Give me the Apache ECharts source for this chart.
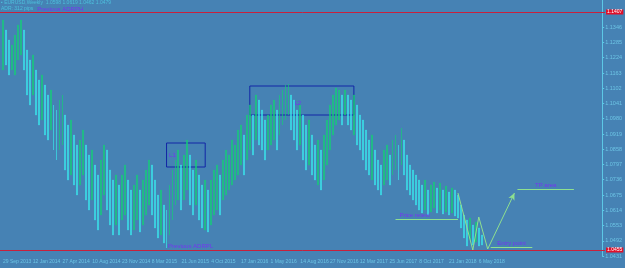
<!DOCTYPE html>
<html><head><meta charset="utf-8">
<script src="https://cdn.jsdelivr.net/npm/echarts@6/dist/echarts.min.js"></script>
<style>html,body{margin:0;padding:0;background:#4682B4;overflow:hidden}#c{width:625px;height:268px}</style>
</head><body><div id="c"></div>
<script>
// ---- data ----
const tickLabels = ["29 Sep 2013","12 Jan 2014","27 Apr 2014","10 Aug 2014","23 Nov 2014","8 Mar 2015","21 Jun 2015","4 Oct 2015","17 Jan 2016","1 May 2016","14 Aug 2016","27 Nov 2016","12 Mar 2017","25 Jun 2017","8 Oct 2017","21 Jan 2018","6 May 2018"];
const highs = [1.1375,1.1335,1.1295,1.1275,1.1315,1.1355,1.1375,1.1335,1.1255,1.1215,
1.1235,1.1175,1.1135,1.1155,1.1115,1.1075,1.1095,1.1035,1.1015,1.1055,
1.1075,1.0995,1.0955,1.0975,1.0915,1.0875,1.0895,1.0935,1.0875,1.0835,
1.0855,1.0795,1.0755,1.0815,1.0875,1.0855,1.0775,1.0735,1.0755,1.0715,
1.0755,1.0795,1.0735,1.0695,1.0715,1.0755,1.0695,1.0735,1.0775,1.0815,
1.0795,1.0735,1.0675,1.0695,1.0635,1.0615,1.0715,1.0775,1.0815,1.0855,
1.0795,1.0835,1.0895,1.0835,1.0775,1.0815,1.0755,1.0715,1.0735,1.0695,
1.0735,1.0775,1.0795,1.0755,1.0815,1.0855,1.0835,1.0895,1.0875,1.0935,
1.0955,1.0915,1.0995,1.1035,1.0995,1.1075,1.1055,1.1015,1.0975,1.0995,
1.1035,1.1055,1.1015,1.1075,1.1095,1.1115,1.1119,1.1075,1.1055,1.1015,
1.1035,1.0995,1.0955,1.0975,1.0915,1.0875,1.0895,1.0855,1.0915,1.0975,
1.1035,1.1075,1.1103,1.1095,1.1075,1.1095,1.1075,1.1055,1.1075,1.1035,
1.0995,1.0975,1.0935,1.0895,1.0915,1.0855,1.0815,1.0795,1.0855,1.0875,
1.0835,1.0895,1.0915,1.0875,1.0943,1.0895,1.0835,1.0795,1.0775,1.0755,
1.0735,1.0715,1.0735,1.0695,1.0715,1.0727,1.0703,1.0723,1.0695,1.0711,
1.0687,1.0703,1.0695,1.0675,1.0635,1.0595,1.0575,1.0583,1.0555,1.0567,
1.0543,1.0515];
const lows = [1.1175,1.1195,1.1155,1.1175,1.1155,1.1215,1.1235,1.1175,1.1075,1.1035,
1.1075,1.0995,1.0955,1.0975,1.0915,1.0895,1.0935,1.0855,1.0815,1.0855,
1.0875,1.0775,1.0735,1.0755,1.0715,1.0675,1.0715,1.0755,1.0655,1.0615,
1.0655,1.0575,1.0535,1.0595,1.0675,1.0615,1.0555,1.0515,1.0555,1.0515,
1.0575,1.0595,1.0535,1.0515,1.0535,1.0575,1.0527,1.0555,1.0595,1.0635,
1.0595,1.0543,1.0503,1.0515,1.0483,1.0463,1.0515,1.0575,1.0635,1.0655,
1.0615,1.0655,1.0695,1.0635,1.0595,1.0635,1.0575,1.0543,1.0535,1.0527,
1.0555,1.0595,1.0615,1.0595,1.0655,1.0675,1.0695,1.0715,1.0735,1.0755,
1.0795,1.0755,1.0815,1.0855,1.0835,1.0895,1.0875,1.0855,1.0815,1.0855,
1.0875,1.0895,1.0855,1.0915,1.0955,1.0975,1.0995,1.0935,1.0895,1.0855,
1.0875,1.0815,1.0775,1.0795,1.0755,1.0735,1.0715,1.0695,1.0735,1.0795,
1.0855,1.0915,1.0955,1.0975,1.0955,1.0995,1.0955,1.0935,1.0915,1.0875,
1.0855,1.0815,1.0775,1.0755,1.0735,1.0715,1.0695,1.0675,1.0715,1.0735,
1.0715,1.0755,1.0775,1.0735,1.0795,1.0755,1.0695,1.0675,1.0655,1.0635,
1.0615,1.0603,1.0615,1.0595,1.0607,1.0623,1.0603,1.0615,1.0599,1.0607,
1.0595,1.0603,1.0591,1.0583,1.0543,1.0503,1.0471,1.0495,1.0475,1.0487,
1.0471,1.0475];
const levelHigh = 1.1407;   // Previous ADRPH
const levelLow = 1.0455;    // Previous ADRPL
const lastPrice = 1.0479;
const categoryCount = 202;
// annotation points: [bar index, price]
const zigzag = [[153,1.0683],[158,1.0455],[160,1.0587],[163,1.0459],[172,1.0683]];
const retestLine = [[132,1.0579],[153,1.0579]];
const tpLine = [[173,1.0699],[192,1.0699]];
const entryLine = [[164,1.0467],[178,1.0467]];
const boxL1 = [[55,1.0883],[68,1.0787]];
const boxL2 = [[83,1.1111],[118,1.0995]];
const adrphAnchor = [11, levelHigh];
const adrplAnchor = [55, levelLow];

// ---- build ----
const categories = Array.from({length: categoryCount}, (_, i) => String(i));
const candles = highs.map((h, i) => {
  const l = lows[i];
  const mid = (h + l) / 2;
  const prevMid = i ? (highs[i - 1] + lows[i - 1]) / 2 : mid;
  return mid >= prevMid ? [l, h, l, h] : [h, l, l, h];
});

const axisTextColor = '#6cc4e4';
const annoGreen = '#8fe08f';
const purple = '#7436f0';
const redLine = '#c8203c';
const upColor = '#12d274';
const downColor = '#38eef0';
const font = 'Liberation Sans, Arial, sans-serif';

const zzLines = [];
for (let k = 0; k < zigzag.length - 1; k++) {
  const last = k === zigzag.length - 2;
  zzLines.push([
    {coord: zigzag[k], symbol: 'none', lineStyle: {color: annoGreen, width: 1, type: 'solid'}, label: {show: false}},
    {coord: zigzag[k + 1], symbol: last ? 'arrow' : 'none', symbolSize: last ? [5, 7] : 0}
  ]);
}
const txt = (s, pos, extra) => Object.assign({show: true, formatter: s, position: pos, color: purple, fontSize: 6, fontFamily: font, distance: 1}, extra || {});

const chart = echarts.init(document.getElementById('c'), null, {renderer: 'canvas'});
chart.setOption({
  animation: false,
  backgroundColor: '#4682B4',
  grid: {left: 0, right: 20, top: 0, bottom: 12, containLabel: false},
  xAxis: {
    type: 'category', data: categories, boundaryGap: true,
    axisLine: {show: false}, axisTick: {show: false}, splitLine: {show: false},
    axisLabel: {
      interval: 9, align: 'left', margin: 3, color: axisTextColor, fontSize: 5, fontFamily: font,
      formatter: (v, i) => (i % 10 === 0 && tickLabels[i / 10] !== undefined) ? tickLabels[i / 10] : ''
    }
  },
  yAxis: {
    type: 'value', position: 'right', min: 1.0431, max: 1.1455, interval: 0.0061,
    axisLine: {show: true, lineStyle: {color: '#5cc8e6', width: 1}},
    axisTick: {show: true, length: 2, lineStyle: {color: '#5cc8e6'}},
    splitLine: {show: false},
    axisLabel: {showMaxLabel: false, color: axisTextColor, fontSize: 5.5, fontFamily: font, margin: 3,
      formatter: v => v.toFixed(4)}
  },
  series: [{
    type: 'candlestick',
    data: candles,
    barWidth: 1.4,
    itemStyle: {color: upColor, color0: downColor, borderColor: upColor, borderColor0: downColor, borderWidth: 0.4},
    markLine: {
      silent: true, symbol: ['none', 'none'], animation: false,
      data: [
        [{yAxis: levelHigh, x: 0, lineStyle: {color: redLine, width: 1, type: 'solid'},
          label: {show: true, position: 'end', formatter: levelHigh.toFixed(4), color: '#ffffff', backgroundColor: '#e0102a', fontSize: 5, fontFamily: font, padding: [0, 1], distance: 1}},
         {yAxis: levelHigh, x: 605}],
        [{yAxis: levelLow, x: 0, lineStyle: {color: redLine, width: 1, type: 'solid'},
          label: {show: true, position: 'end', formatter: levelLow.toFixed(4), color: '#ffffff', backgroundColor: '#e0102a', fontSize: 5, fontFamily: font, padding: [0, 1], distance: 1}},
         {yAxis: levelLow, x: 605}],
        [{yAxis: lastPrice, x: 600, lineStyle: {opacity: 0},
          label: {show: true, position: 'end', formatter: lastPrice.toFixed(4), color: '#f0ffff', backgroundColor: '#22c6d6', fontSize: 5, fontFamily: font, padding: [0, 1], distance: 1}},
         {yAxis: lastPrice, x: 605}],
        ...zzLines,
        [{coord: retestLine[0], lineStyle: {color: annoGreen, width: 1, type: 'solid'}, label: txt('Price retest', 'insideStartTop', {distance: [4, 1]})}, {coord: retestLine[1]}],
        [{coord: tpLine[0], lineStyle: {color: annoGreen, width: 1, type: 'solid'}, label: txt('TP area', 'insideMiddleTop', {distance: [0, 1]})}, {coord: tpLine[1]}],
        [{coord: entryLine[0], lineStyle: {color: annoGreen, width: 1, type: 'solid'}, label: txt('Entry point', 'insideMiddleTop', {distance: [0, 1]})}, {coord: entryLine[1]}]
      ]
    },
    markArea: {
      silent: true,
      itemStyle: {color: 'rgba(0,0,0,0)', borderColor: '#1226a6', borderWidth: 1},
      label: {show: true, formatter: '{b}', color: purple, fontSize: 6, fontFamily: font},
      data: [
        [{name: 'L1', coord: boxL1[0], label: {position: 'insideLeft', distance: 3}}, {coord: boxL1[1]}],
        [{name: 'L2', coord: boxL2[0], label: {position: 'inside', offset: [-4, 3]}}, {coord: boxL2[1]}]
      ]
    },
    markPoint: {
      silent: true, symbol: 'circle', symbolSize: 1, itemStyle: {color: 'rgba(0,0,0,0)'},
      data: [
        {coord: adrphAnchor, label: txt('Previous ADRPH', 'right', {offset: [0, -3]})},
        {coord: adrplAnchor, label: txt('Previous ADRPL', 'right', {offset: [0, -4]})}
      ]
    }
  }],
  graphic: [
    {type: 'text', left: 1, top: 0, style: {text: '\u25AA EURUSD,Weekly  1.0598 1.0619 1.0462 1.0479', fill: '#4cc0dc', font: '5px ' + font}},
    {type: 'text', left: 1, top: 6, style: {text: 'ADR: 312 pips', fill: '#4cc0dc', font: '5px ' + font}}
  ]
});
</script>
</body></html>
